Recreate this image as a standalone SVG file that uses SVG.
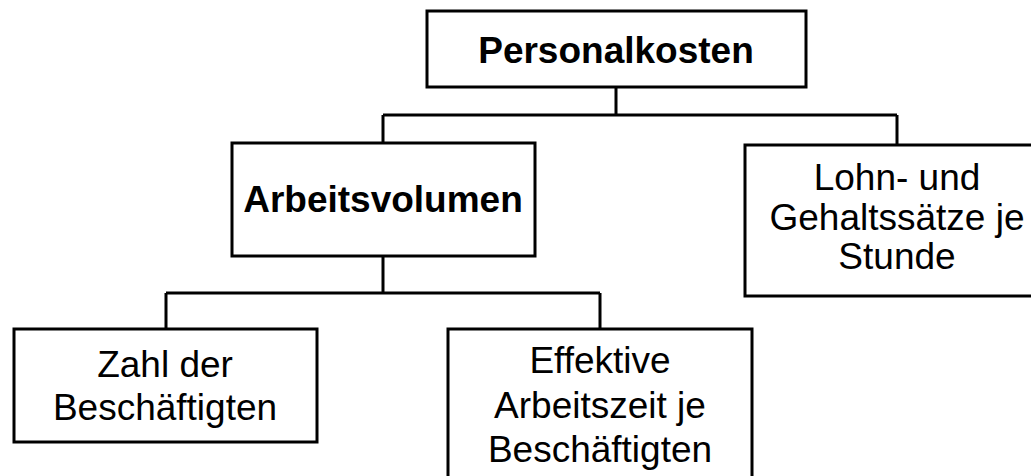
<svg xmlns="http://www.w3.org/2000/svg" width="1031" height="476" viewBox="0 0 1031 476">
<style>
rect{fill:#fff;stroke:#000;stroke-width:3}
.c path{fill:none;stroke:#000;stroke-width:3}
text{font-family:"Liberation Sans",Arial,sans-serif;font-size:37px;text-anchor:middle;fill:#000}
.b{font-weight:bold}
</style>
<rect x="0" y="0" width="1031" height="476" style="stroke:none"/>
<g class="c" id="connectors">
<path d="M616,87 V115 M383,115 H897 M383,115 V143 M897,115 V145"/>
<path d="M383,256 V293 M166,293 H600 M166,293 V329 M600,293 V329"/>
</g>
<g id="personalkosten"><rect x="427" y="11" width="379" height="76"/><text class="b" x="616" y="63">Personalkosten</text></g>
<g id="arbeitsvolumen"><rect x="232" y="143" width="303" height="113"/><text class="b" x="383" y="212">Arbeitsvolumen</text></g>
<g id="lohn"><rect x="745" y="145" width="303" height="151"/><text x="897" y="190">Lohn- und</text><text x="897" y="230">Gehaltssätze je</text><text x="897" y="269">Stunde</text></g>
<g id="zahl"><rect x="14" y="329" width="303" height="113"/><text x="165" y="377">Zahl der</text><text x="165" y="420">Beschäftigten</text></g>
<g id="effektive"><rect x="448" y="329" width="304" height="160"/><text x="600" y="373">Effektive</text><text x="600" y="418">Arbeitszeit je</text><text x="600" y="462">Beschäftigten</text></g>
</svg>
